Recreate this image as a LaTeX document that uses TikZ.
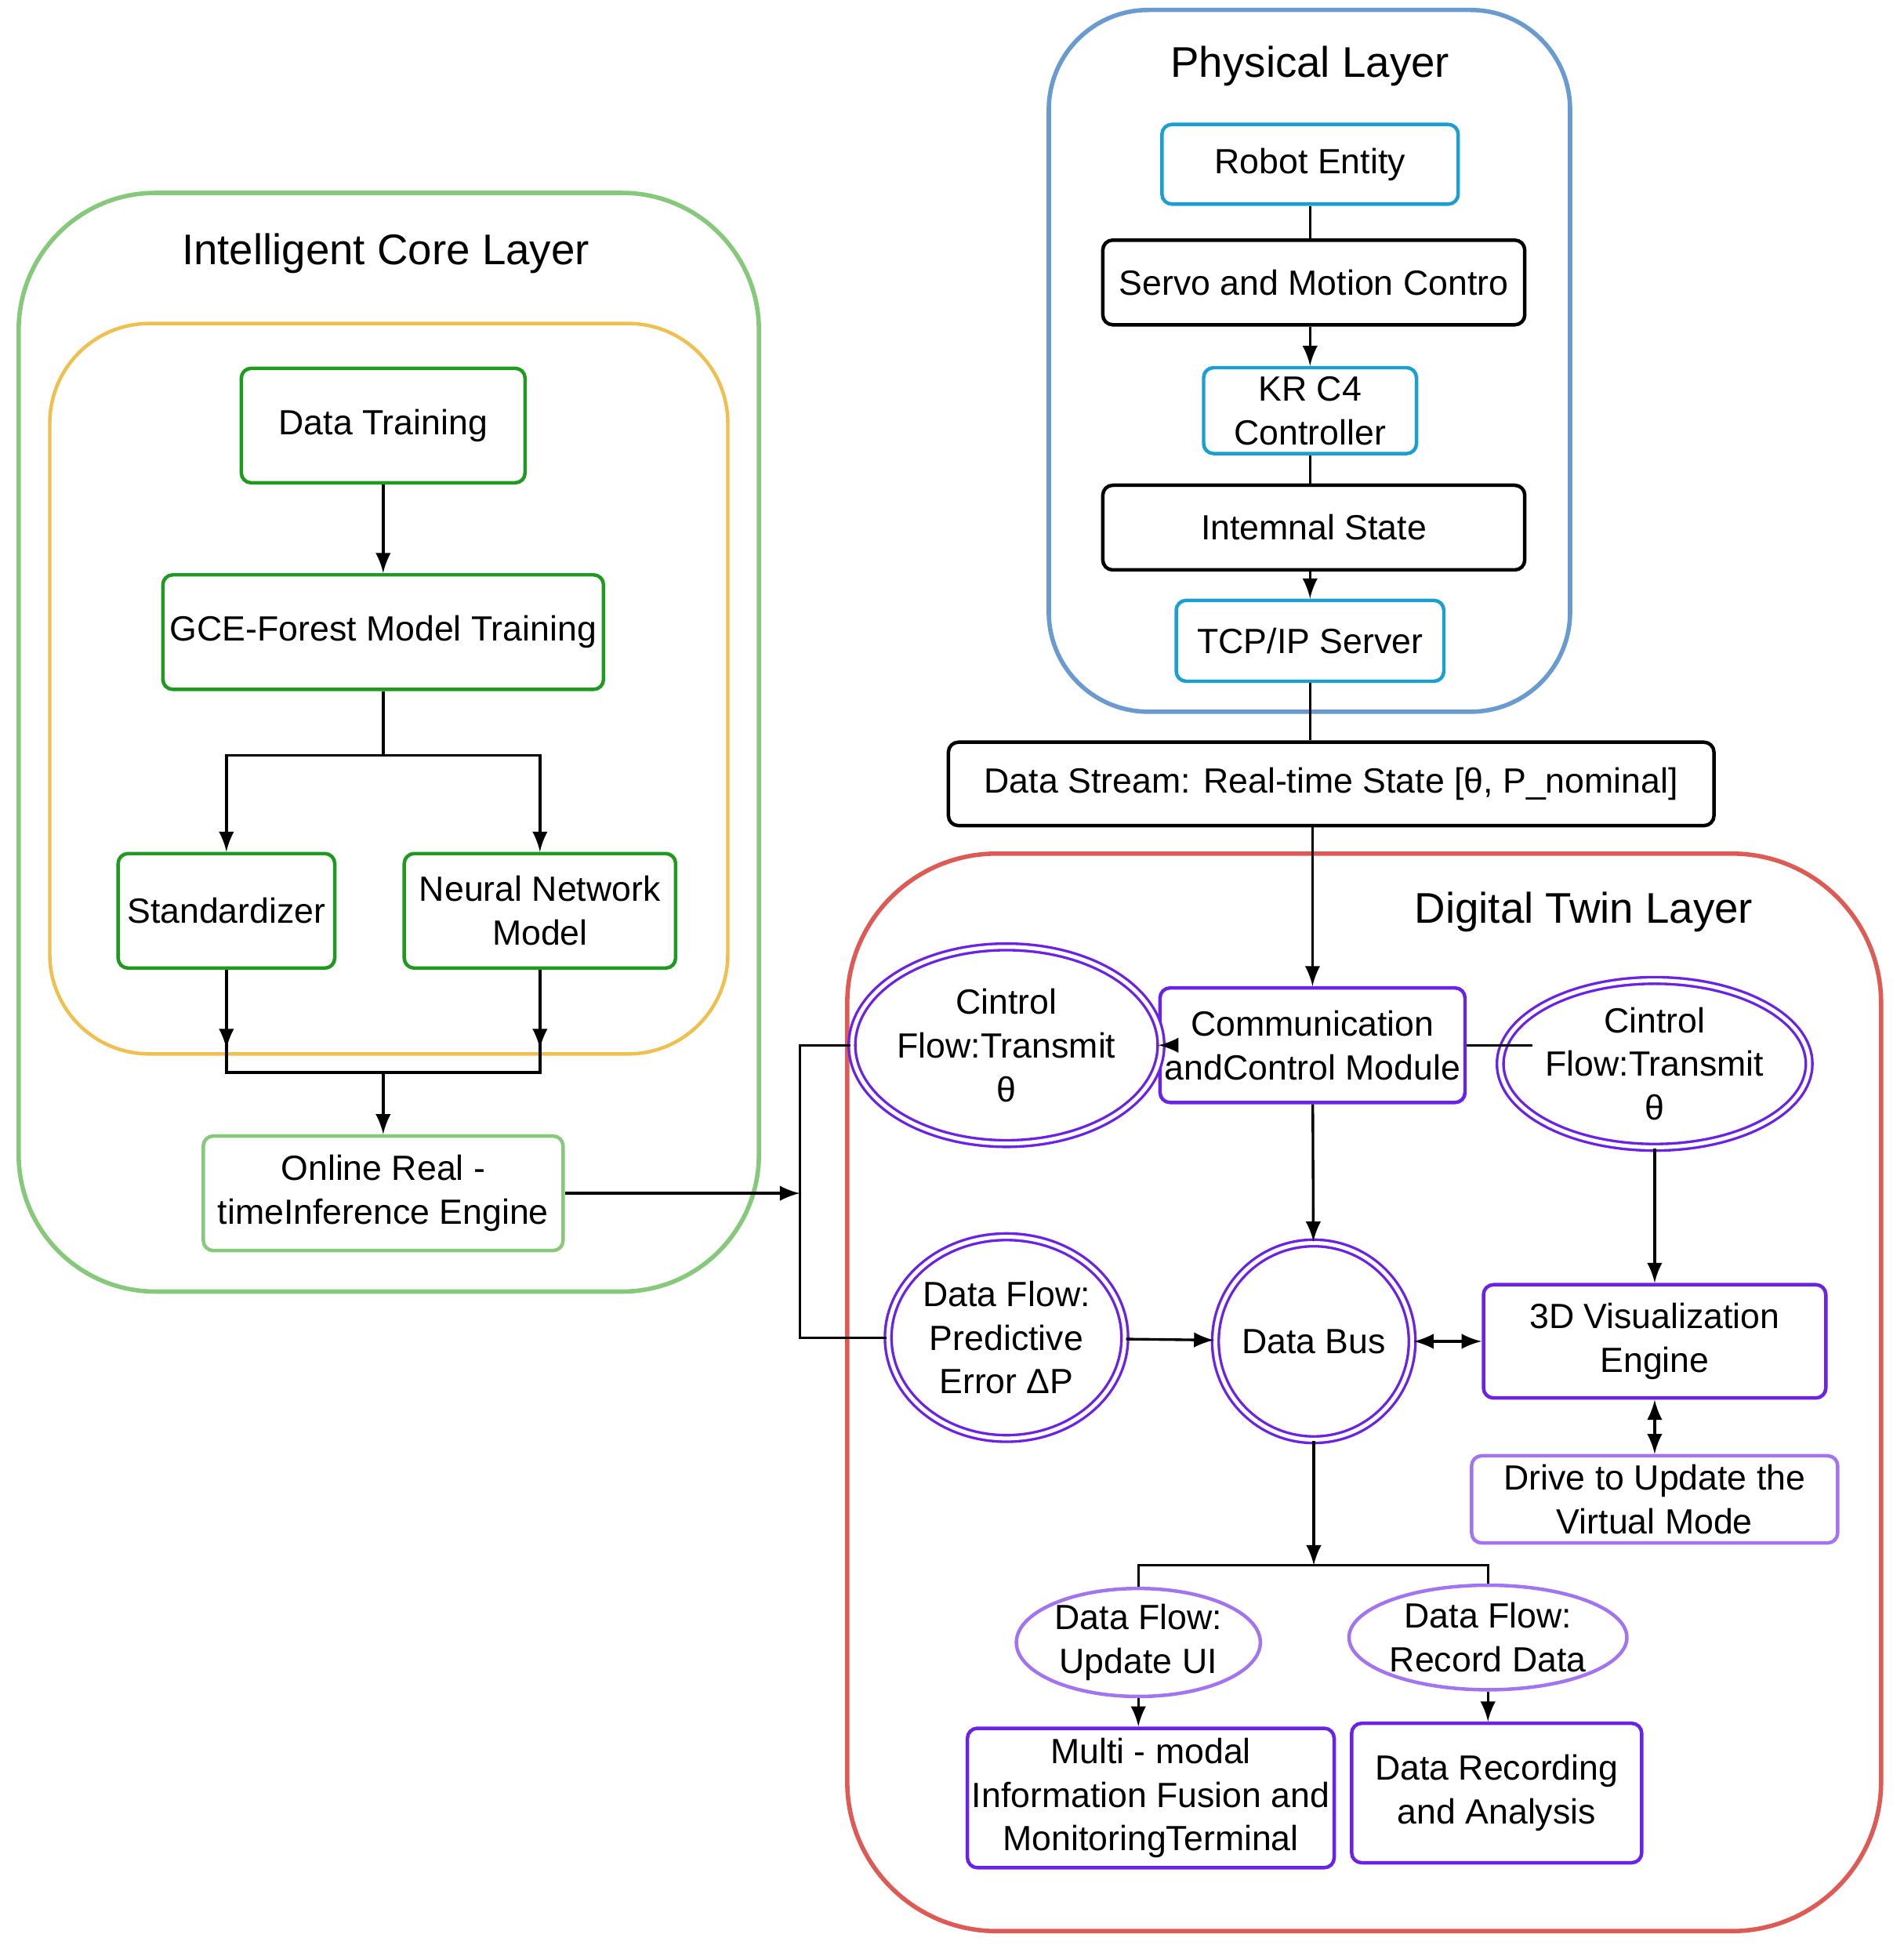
\documentclass[tikz,border=0pt]{standalone}
\usepackage{fontspec}
\setmainfont{Liberation Sans}
\usetikzlibrary{arrows, calc, positioning, shapes.geometric}
\tikzset{>=latex}
\definecolor{cgreen}{HTML}{1E9A1E}
\definecolor{cgreenL}{HTML}{86C97A}
\definecolor{corange}{HTML}{EFC050}
\definecolor{cblue}{HTML}{6A9BD0}
\definecolor{ccyan}{HTML}{1A9FD0}
\definecolor{cred}{HTML}{DD5A55}
\definecolor{cpurple}{HTML}{6A22E6}
\definecolor{cpurpleL}{HTML}{A274F0}
\tikzset{layer/.style = {draw, line width=1pt, rounded corners=1.1cm}}
\tikzset{box/.style = {draw, line width=0.8pt, rounded corners=0.08cm, align=center, inner sep=1pt}}
\tikzset{oval/.style = {ellipse, draw=cpurple, double=white, double distance=0.9pt, line width=0.6pt, align=center, inner sep=0pt}}
\tikzset{lbl/.style = {font=\fontsize{9.8}{12}\selectfont}}
\begin{document}
\begin{tikzpicture}[x=0.01cm, y=-0.01cm, font=\fontsize{8}{10}\selectfont, line width=0.6pt]
  \useasboundingbox (0,0) rectangle (1530,1572);
  % layers
  \draw[layer, cgreenL] (15,155) rectangle (610,1038);
  \draw[layer, corange, rounded corners=0.8cm, line width=0.8pt] (40,260) rectangle (585,847);
  \draw[layer, cblue, rounded corners=0.8cm] (843,8) rectangle (1262,572);
  \draw[layer, cred, rounded corners=1.2cm] (681,686) rectangle (1512,1552);
  \node[lbl] (tIC) at (310,204) {Intelligent Core Layer};
  \node[lbl] (tPL) at (1053,53) {Physical Layer};
  \node[lbl] (tDT) at (1273,733) {Digital Twin Layer};

  % intelligent core
  \node[box, cgreen, minimum width=2.28cm, minimum height=0.92cm] (train) at (308,342) {\color{black}Data Training};
  \node[box, cgreen, minimum width=3.54cm, minimum height=0.92cm] (gce) at (308,508) {\color{black}GCE-Forest Model Training};
  \node[box, cgreen, minimum width=1.74cm, minimum height=0.92cm] (std) at (182,732) {\color{black}Standardizer};
  \node[box, cgreen, minimum width=2.18cm, minimum height=0.92cm] (nn) at (434,732) {\color{black}Neural Network\\\color{black}Model};
  \node[box, cgreenL, minimum width=2.89cm, minimum height=0.92cm] (online) at (308,959) {\color{black}Online Real -\\\color{black}timeInference Engine};

  % physical
  \node[box, ccyan, minimum width=2.38cm, minimum height=0.64cm] (robot) at (1053,132) {\color{black}Robot Entity};
  \node[box, minimum width=3.39cm, minimum height=0.68cm] (servo) at (1056,227) {Servo and Motion Contro};
  \node[box, ccyan, minimum width=1.71cm, minimum height=0.69cm] (krc) at (1053,330) {\color{black}KR C4\\\color{black}Controller};
  \node[box, minimum width=3.39cm, minimum height=0.68cm] (state) at (1056,424) {Intemnal State};
  \node[box, ccyan, minimum width=2.15cm, minimum height=0.65cm] (tcp) at (1053,515) {\color{black}TCP/IP Server};
  \node[box, minimum width=6.15cm, minimum height=0.67cm] (stream) at (1070,630) {Data Stream: Real-time State [θ, P\_nominal]};

  % digital twin
  \node[box, cpurple, minimum width=2.45cm, minimum height=0.92cm] (comm) at (1055,840) {\color{black}Communication\\\color{black}andControl Module};
  \node[oval, minimum width=1.9cm, minimum height=1.58cm] (cfL) at (809,840) {Cintrol\\Flow:Transmit\\θ};
  \node[oval, minimum width=1.94cm, minimum height=1.34cm] (cfR) at (1330,855) {Cintrol\\Flow:Transmit\\θ};
  \node[circle, draw=cpurple, double=white, double distance=0.9pt, line width=0.6pt, minimum size=1.58cm, inner sep=0pt] (bus) at (1056,1078) {Data Bus};
  \node[oval, minimum width=1.9cm, minimum height=1.62cm] (pred) at (809,1075) {Data Flow:\\Predictive\\Error ΔP};
  \node[box, cpurple, minimum width=2.75cm, minimum height=0.91cm] (vis) at (1330,1078) {\color{black}3D Visualization\\\color{black}Engine};
  \node[box, cpurpleL, minimum width=2.94cm, minimum height=0.70cm] (drive) at (1330,1205) {\color{black}Drive to Update the\\\color{black}Virtual Mode};
  \node[ellipse, draw=cpurpleL, line width=0.8pt, align=center, inner sep=0pt, minimum width=1.96cm, minimum height=0.84cm] (ui) at (915,1320) {Data Flow:\\Update UI};
  \node[ellipse, draw=cpurpleL, line width=0.8pt, align=center, inner sep=0pt, minimum width=1.96cm, minimum height=0.84cm] (rec) at (1196,1316) {Data Flow:\\Record Data};
  \node[box, cpurple, minimum width=2.89cm, minimum height=1.12cm] (multi) at (925,1445) {\color{black}Multi - modal\\\color{black}Information Fusion and\\\color{black}MonitoringTerminal};
  \node[box, cpurple, minimum width=2.33cm, minimum height=1.12cm] (drec) at (1203,1441) {\color{black}Data Recording\\\color{black}and Analysis};

  \coordinate (split) at (308,607);
  \coordinate (join) at (308,862);
  \coordinate (fork) at (643,959);
  \coordinate (busfork) at (1056,1258);
  \coordinate (cfRin) at (1232,840);

  % connectors
  \draw[->] (train) -- (gce);
  \draw (gce) -- (split);
  \draw[->] (split) -| (std);
  \draw[->] (split) -| (nn);
  \draw[->] (std) -- (std.south|-0,843);
  \draw[->] (nn) -- (nn.south|-0,843);
  \draw (std.south) |- (join) -| (nn.south);
  \draw[->] (join) -- (online);
  \draw[->] (online.east|-fork) -- (fork);
  \draw (cfL.west) -| (fork) |- (pred.west);
  \draw (robot) -- (robot|-servo.north);
  \draw (krc) -- (krc|-state.north);
  \draw (tcp) -- (tcp|-stream.north);
  \draw (comm) -- (cfRin);
  \draw[->] (servo.south-|krc) -- (krc);
  \draw[->] (state.south-|tcp) -- (tcp);
  \draw[->] (stream.south-|comm) -- (comm);
  \foreach \i/\o in {cfL/comm, comm/bus, pred/bus, cfR/vis, ui/multi.north-|ui, rec/rec|-drec.north}
  {
    \draw[->] (\i) -- (\o);
  }
  \draw[<->] (bus) -- (vis);
  \draw[<->] (vis) -- (drive);
  \draw[->] (bus) -- (busfork);
  \draw (ui) |- (busfork) -| (rec);
\end{tikzpicture}
\end{document}
